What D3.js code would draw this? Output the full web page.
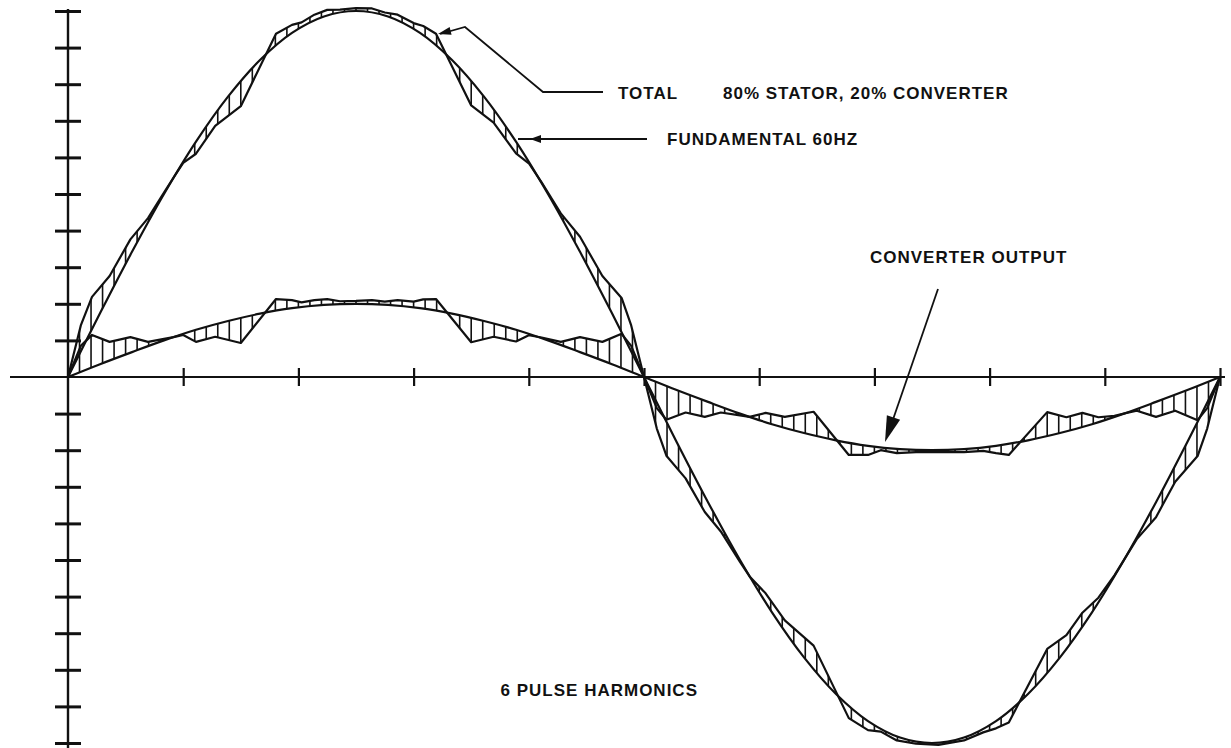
<!DOCTYPE html>
<html><head><meta charset="utf-8">
<script src="https://cdn.jsdelivr.net/npm/d3@7"></script>
<style>
body{margin:0;background:#fff}
svg{display:block}
text{font-family:"Liberation Sans",Arial,sans-serif;font-weight:bold;font-size:17px;letter-spacing:1px;fill:#111}
</style>
</head><body>
<svg id="c" width="1231" height="748"></svg>
<script>
// ---- data (degrees of one 60 Hz cycle, per-unit with 10 = stator+converter peak) ----
const fundAngles=[0,10,20,30,40,50,60,70,80,90,100,110,120,130,140,150,160,170,180,190,200,210,220,230,240,250,260,270,280,290,300,310,320,330,340,350,360];
const fundamental=[0,1.74,3.42,5.00,6.43,7.66,8.66,9.40,9.85,10.00,9.85,9.40,8.66,7.66,6.43,5.00,3.42,1.74,0,-1.74,-3.42,-5.00,-6.43,-7.66,-8.66,-9.40,-9.85,-10.00,-9.85,-9.40,-8.66,-7.66,-6.43,-5.00,-3.42,-1.74,0];
const converterFundamental=[0,0.35,0.68,1.00,1.29,1.53,1.73,1.88,1.97,2.00,1.97,1.88,1.73,1.53,1.29,1.00,0.68,0.35,0,-0.35,-0.68,-1.00,-1.29,-1.53,-1.73,-1.88,-1.97,-2.00,-1.97,-1.88,-1.73,-1.53,-1.29,-1.00,-0.68,-0.35,0];
const convAngles=[0,4,7.5,13,19.5,25,30,33,36,40,46,54,65,70,73,77,81,85,90,95,99,103,108,111,115,126,133,140,144,148,154,160,167,173,176,180,184,187,193,199,204,210,213,218,224,233,244,250,254,259,265,272,280,286,290,294,306,312,317,322,327,334,340,346,353,356,360];
const converterOutput=[0,0.85,1.15,0.96,1.09,0.96,1.04,1.09,1.15,0.96,1.10,0.93,2.13,2.10,2.04,2.10,2.13,2.07,2.08,2.10,2.06,2.10,2.06,2.12,2.13,0.95,1.10,0.97,1.14,1.08,0.96,1.09,0.96,1.18,0.85,0,-0.85,-1.17,-0.97,-1.09,-0.97,-1.05,-1.09,-0.98,-1.09,-0.95,-2.13,-2.13,-2.00,-2.08,-2.05,-2.05,-2.05,-2.02,-2.08,-2.13,-0.96,-1.10,-0.98,-1.10,-1.06,-0.92,-1.09,-0.92,-1.18,-0.85,0];
const totalAngles=[0,4,7.5,13,19.5,25,30,33,36,40,46,54,65,70,73,77,81,85,90,95,99,103,108,111,115,126,133,140,144,148,154,160,167,173,176,180,184,187,193,199,204,210,213,218,224,233,244,250,254,259,265,272,280,286,290,294,306,312,317,322,327,334,340,346,353,356,360];
const total=[0,1.41,2.19,2.76,3.76,4.34,5.04,5.45,5.85,6.10,6.86,7.40,9.38,9.62,9.69,9.90,10.03,10.04,10.08,10.07,9.96,9.90,9.67,9.59,9.38,7.42,6.95,6.11,5.84,5.32,4.47,3.83,2.76,2.16,1.41,0,-1.41,-2.15,-2.77,-3.69,-4.22,-5.05,-5.45,-5.91,-6.65,-7.34,-9.32,-9.65,-9.69,-9.93,-10.02,-10.05,-9.93,-9.71,-9.60,-9.44,-7.43,-7.05,-6.44,-6.03,-5.42,-4.43,-3.83,-2.86,-2.16,-1.41,0];
const xTicks=[36,72,108,144,180,216,252,288,324,360];
const yTicks=[-10,-9,-8,-7,-6,-5,-4,-3,-2,-1,1,2,3,4,5,6,7,8,9,10];
const labels=["TOTAL","80% STATOR, 20% CONVERTER","FUNDAMENTAL 60HZ","CONVERTER OUTPUT","6 PULSE HARMONICS"];

// ---- layout ----
const svg=d3.select("#c");
const x=d3.scaleLinear().domain([0,360]).range([68,1220]);
const y=d3.scaleLinear().domain([-10,10]).range([743,11]);
const zip=(a,b)=>a.map((v,i)=>[v,b[i]]);
const fundPts=zip(fundAngles,fundamental);
const cfPts=zip(fundAngles,converterFundamental);
const convPts=zip(convAngles,converterOutput);
const totPts=zip(totalAngles,total);

const lin=d3.line().x(d=>x(d[0])).y(d=>y(d[1]));
const smooth=d3.line().x(d=>x(d[0])).y(d=>y(d[1])).curve(d3.curveCatmullRom.alpha(0.5));

const defs=svg.append("defs");
function band(id,stepPts,fPts){
  const d=lin(stepPts)+smooth(fPts.slice().reverse()).replace(/^M/,"L")+"Z";
  defs.append("clipPath").attr("id",id).append("path").attr("d",d).attr("clip-rule","nonzero");
}
band("bandTotal",totPts,fundPts);
band("bandConv",convPts,cfPts);

const hatchX=d3.range(0,360.01,3.6);
["bandTotal","bandConv"].forEach(id=>{
  svg.append("g").attr("clip-path",`url(#${id})`)
    .selectAll("line").data(hatchX).join("line")
    .attr("x1",d=>x(d)).attr("x2",d=>x(d))
    .attr("y1",y(10.6)).attr("y2",y(-10.6))
    .attr("stroke","#111").attr("stroke-width",1.6);
});

const gx=svg.append("g").attr("transform",`translate(0,${y(0)})`)
  .call(d3.axisBottom(x).tickValues(xTicks).tickSize(9).tickFormat(""));
gx.select(".domain").remove();
gx.selectAll(".tick line").attr("y1",-9).attr("y2",9).attr("stroke","#111").attr("stroke-width",2.2);
svg.append("line").attr("x1",10).attr("x2",1225).attr("y1",y(0)).attr("y2",y(0)).attr("stroke","#111").attr("stroke-width",1.8);

const gy=svg.append("g").attr("transform",`translate(${x(0)},0)`)
  .call(d3.axisLeft(y).tickValues(yTicks).tickSize(13).tickFormat(""));
gy.select(".domain").remove();
gy.selectAll(".tick line").attr("x1",13).attr("x2",-13).attr("stroke","#111").attr("stroke-width",3);
svg.append("line").attr("x1",x(0)).attr("x2",x(0)).attr("y1",9).attr("y2",748).attr("stroke","#111").attr("stroke-width",2.4);

const curveStyle=s=>s.attr("fill","none").attr("stroke","#111").attr("stroke-width",2.2).attr("stroke-linejoin","round");
svg.append("path").attr("d",smooth(fundPts)).call(curveStyle);
svg.append("path").attr("d",smooth(cfPts)).call(curveStyle);
svg.append("path").attr("d",lin(totPts)).call(curveStyle);
svg.append("path").attr("d",lin(convPts)).call(curveStyle);

const ann=svg.append("g");
function arrowHead(tx,ty,fx,fy,len,hw){
  const a=Math.atan2(ty-fy,tx-fx),c=Math.cos(a),s=Math.sin(a);
  const bx=tx-len*c,by=ty-len*s;
  ann.append("path").attr("d",`M${tx},${ty}L${bx-hw*s},${by+hw*c}L${bx+hw*s},${by-hw*c}Z`).attr("fill","#111");
}
ann.append("path").attr("d","M603,92L543,92L465,27L440,34").attr("fill","none").attr("stroke","#111").attr("stroke-width",1.8);
arrowHead(438,34,458,29,13,4);
ann.append("path").attr("d","M647,139L518,139").attr("fill","none").attr("stroke","#111").attr("stroke-width",1.8);
arrowHead(530,139,545,139,11,4);
ann.append("path").attr("d","M938,289L888,434").attr("fill","none").attr("stroke","#111").attr("stroke-width",1.8);
arrowHead(885,442,938,289,26,7);

ann.append("text").attr("x",618).attr("y",99).text(labels[0]);
ann.append("text").attr("x",723).attr("y",99).text(labels[1]);
ann.append("text").attr("x",667).attr("y",145).text(labels[2]);
ann.append("text").attr("x",870).attr("y",263).text(labels[3]);
ann.append("text").attr("x",698).attr("y",696).attr("text-anchor","end").text(labels[4]);
</script>
</body></html>
